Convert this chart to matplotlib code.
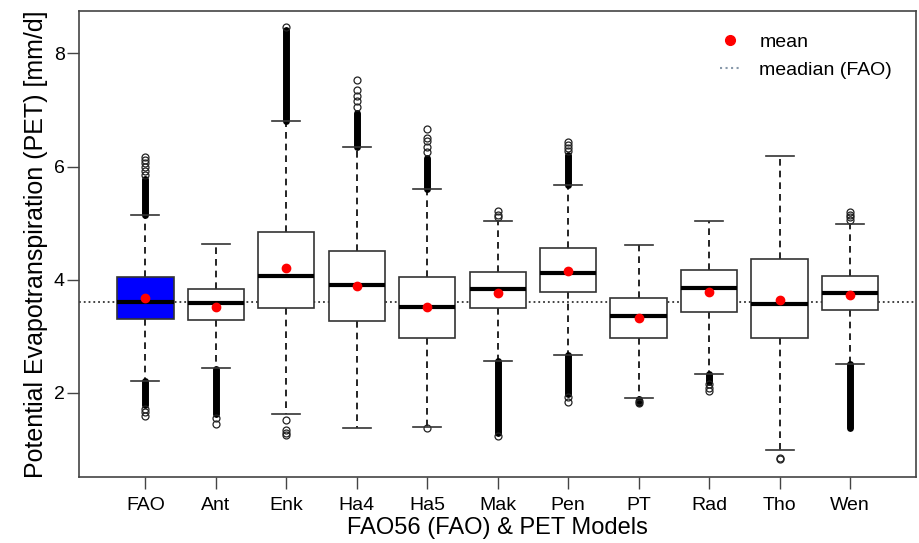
import matplotlib
matplotlib.use('Agg')
import matplotlib.pyplot as plt
from matplotlib.lines import Line2D

# Modeli
models = ['FAO', 'Ant', 'Enk', 'Ha4', 'Ha5', 'Mak', 'Pen', 'PT', 'Rad', 'Tho', 'Wen']

# Statistika kutija (očitano sa slike)
q1 = [3.31, 3.28, 3.505, 3.27, 2.975, 3.505, 3.78, 2.975, 3.435, 2.975, 3.46]
median = [3.61, 3.594, 4.07, 3.91, 3.52, 3.83, 4.125, 3.36, 3.86, 3.58, 3.77]
q3 = [4.05, 3.83, 4.84, 4.51, 4.04, 4.14, 4.555, 3.67, 4.18, 4.36, 4.065]
mean = [3.68, 3.52, 4.21, 3.89, 3.52, 3.77, 4.16, 3.33, 3.79, 3.65, 3.73]
whisker_low = [2.22, 2.435, 1.63, 1.385, 1.40, 2.56, 2.67, 1.915, 2.33, 0.99, 2.52]
whisker_high = [5.14, 4.64, 6.80, 6.35, 5.60, 5.04, 5.67, 4.61, 5.04, 6.19, 4.99]

# Gusti stupci outliera (od, do), None ako nema
dense_upper = [(5.14, 5.78), None, (6.80, 8.42), (6.35, 6.95), (5.60, 6.15), None,
               (5.67, 6.20), None, None, None, None]
dense_lower = [(1.78, 2.22), (1.62, 2.43), None, None, None, (1.30, 2.56),
               (1.98, 2.67), (1.82, 1.90), (2.20, 2.33), None, (1.38, 2.52)]

# Pojedinačni outlieri
sparse_outliers = [
    [5.85, 5.92, 6.0, 6.06, 6.12, 6.17, 1.72, 1.66, 1.60],
    [1.56, 1.45],
    [8.47, 1.52, 1.35, 1.30, 1.26],
    [7.05, 7.15, 7.25, 7.35, 7.53],
    [6.25, 6.35, 6.45, 6.50, 6.67, 1.38],
    [5.10, 5.15, 5.22, 1.24],
    [6.28, 6.33, 6.38, 6.43, 1.93, 1.84],
    [1.85, 1.82],
    [2.15, 2.08, 2.03],
    [0.85, 0.83],
    [5.05, 5.10, 5.15, 5.20],
]

fao_median = median[0]


def plot_data():
    plt.rcParams['font.family'] = ['Liberation Sans', 'DejaVu Sans']
    font_size = 14
    edge = '#333333'

    fig = plt.figure(figsize=(9.2, 5.43), dpi=100)
    ax = fig.add_axes([0.086, 0.121, 0.91, 0.859])

    positions = list(range(1, len(models) + 1))

    # Statistika za bxp
    stats = []
    for i, name in enumerate(models):
        stats.append({
            'label': name,
            'q1': q1[i], 'med': median[i], 'q3': q3[i], 'mean': mean[i],
            'whislo': whisker_low[i], 'whishi': whisker_high[i], 'fliers': [],
        })

    # Outlieri - gusti stupci i pojedinačni kružići
    for i, pos in enumerate(positions):
        for band in (dense_upper[i], dense_lower[i]):
            if band is not None:
                ax.plot([pos, pos], [band[0], band[1]], color='black', linewidth=5,
                        solid_capstyle='round', zorder=2)
        vals = sparse_outliers[i]
        ax.plot([pos] * len(vals), vals, linestyle='none', marker='o', markersize=5,
                markerfacecolor='none', markeredgecolor='#222222', markeredgewidth=0.9,
                zorder=2)

    bp = ax.bxp(stats, positions=positions, widths=0.8, patch_artist=True,
                showmeans=True, showfliers=False,
                boxprops={'edgecolor': edge, 'linewidth': 1.2, 'facecolor': 'white'},
                medianprops={'color': 'black', 'linewidth': 3},
                whiskerprops={'color': 'black', 'linewidth': 1.2, 'linestyle': (0, (4, 3))},
                capprops={'color': edge, 'linewidth': 1.2},
                meanprops={'marker': 'o', 'markerfacecolor': 'red', 'markeredgecolor': 'red',
                           'markersize': 6},
                capwidths=0.4)
    for w in bp['whiskers']:
        w.set_zorder(1)
    bp['boxes'][0].set_facecolor('#0000ff')
    for m in bp['means']:
        m.set_zorder(5)

    # Medijan FAO
    ax.axhline(y=fao_median, color='#333333', linestyle=':', linewidth=1.3, zorder=0.5)

    ax.set_xlim(0.06, 11.94)
    ax.set_ylim(0.51, 8.75)
    ax.set_yticks([2, 4, 6, 8])
    ax.set_xticks(positions)
    ax.set_xticklabels(models)

    ax.tick_params(axis='both', labelsize=font_size, length=8.5, width=1.0, color='#444444',
                   direction='out')
    ax.tick_params(axis='y', pad=2)
    ax.tick_params(axis='x', pad=6)
    for s in ax.spines.values():
        s.set_color('#444444')
        s.set_linewidth(1.2)

    ax.set_xlabel('FAO56 (FAO) & PET Models', fontsize=17, labelpad=2)
    ax.set_ylabel('Potential Evapotranspiration (PET) [mm/d]', fontsize=18, labelpad=4)

    # Legenda
    legend_elements = [
        Line2D([0], [0], color='red', marker='o', linestyle='none', markersize=7, label='mean'),
        Line2D([0], [0], color='#8899aa', linestyle=':', linewidth=1.5, label='meadian (FAO)'),
    ]
    ax.legend(handles=legend_elements, loc='upper left', bbox_to_anchor=(0.745, 0.99),
              frameon=False, fontsize=font_size, handlelength=1.0, handletextpad=1.0,
              labelspacing=0.55)

    fig.savefig('out.png', dpi=100)


if __name__ == "__main__":
    plot_data()
